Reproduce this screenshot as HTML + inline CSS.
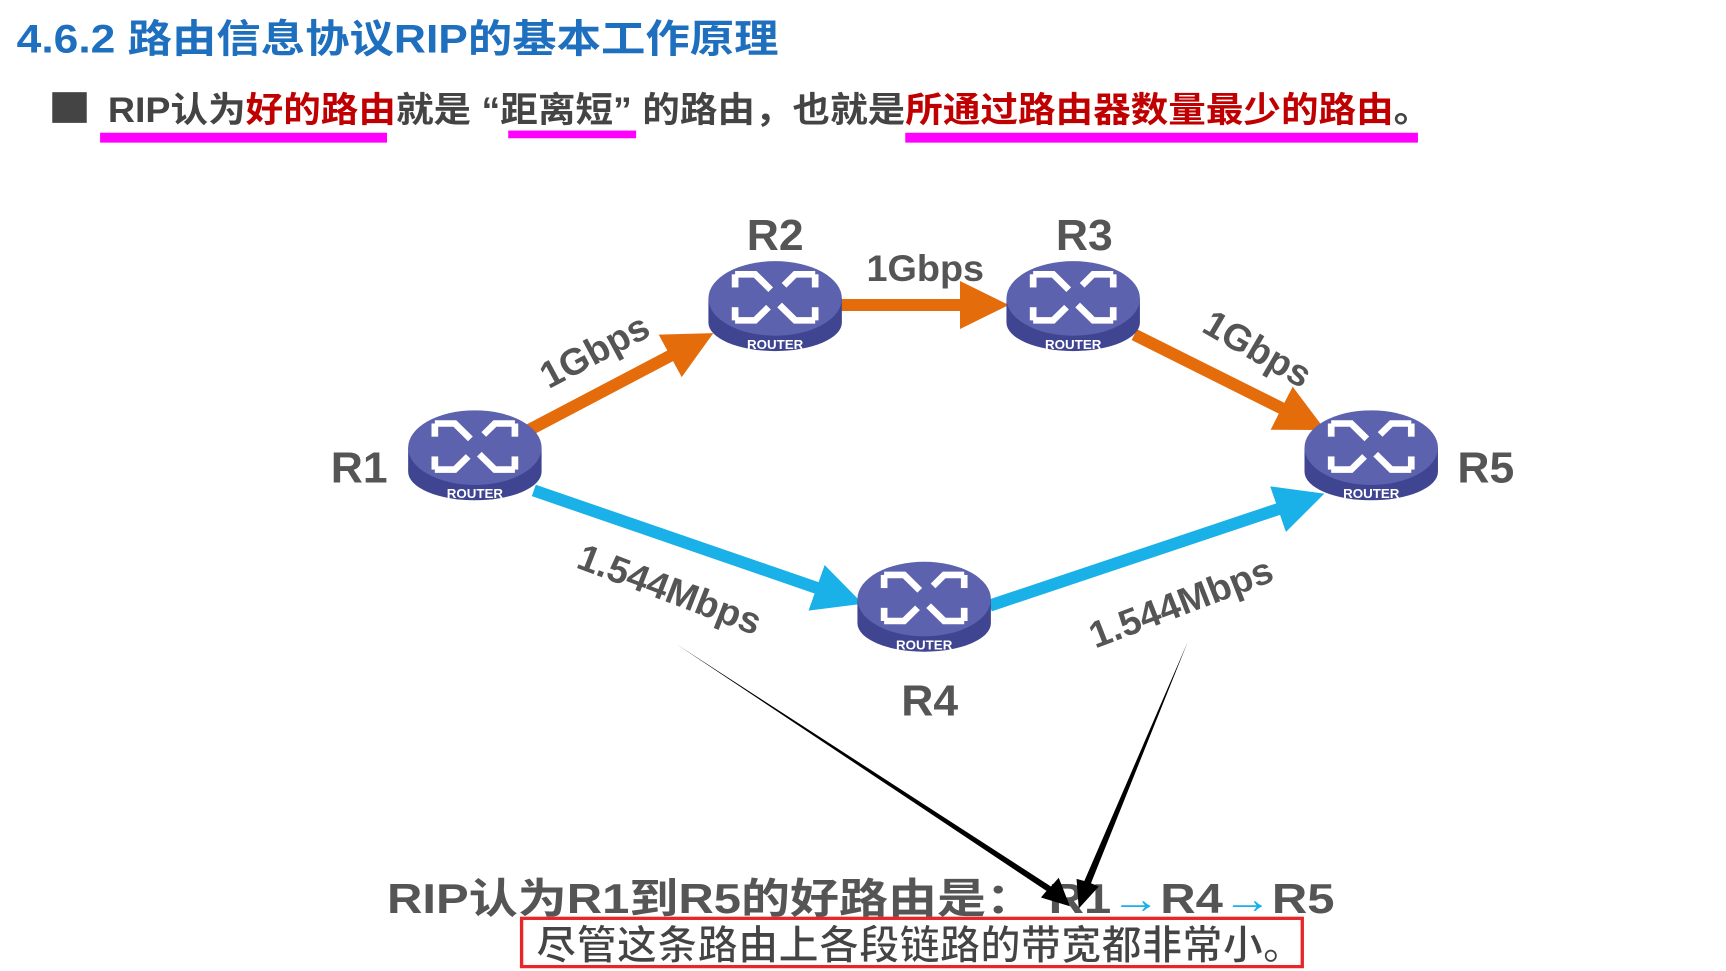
<!DOCTYPE html>
<html><head><meta charset="utf-8"><style>
html,body{margin:0;padding:0;background:#fff;}
svg{display:block;}
text{font-family:"Liberation Sans","Noto Sans CJK SC",sans-serif;}
</style></head><body>
<svg width="1726" height="971" viewBox="0 0 1552 885" preserveAspectRatio="none" xmlns="http://www.w3.org/2000/svg">
<defs>
<g id="rt">
  <path d="M-60,0 L-60,22 A60,26 0 0 0 60,22 L60,0 Z" fill="#3f4590"/>
  <ellipse cx="0" cy="0" rx="60" ry="34" fill="#5c62ad"/>
  <g stroke="#fff" stroke-width="6" fill="none" stroke-linejoin="miter">
    <path d="M-36,-22 L-18,-22 L-4,-8"/><path d="M-36,-22 L-36,-10"/>
    <path d="M36,-22 L18,-22 L8,-12"/><path d="M36,-22 L36,-10"/>
    <path d="M-36,20 L-18,20 L-6,8"/><path d="M-36,20 L-36,8"/>
    <path d="M36,20 L18,20 L4,6"/><path d="M36,20 L36,8"/>
  </g>
  <text x="0" y="46" font-size="12" font-weight="bold" fill="#fff" text-anchor="middle">ROUTER</text>
</g>
<marker id="ao" markerWidth="4" markerHeight="4" refX="2" refY="2" orient="auto" markerUnits="strokeWidth"><path d="M0,0 L4,2 L0,4 Z" fill="#e46c0a"/></marker>
<marker id="ab" markerWidth="4" markerHeight="4" refX="2" refY="2" orient="auto" markerUnits="strokeWidth"><path d="M0,0 L4,2 L0,4 Z" fill="#1ab0e8"/></marker>
</defs>

<text x="15" y="48" font-size="36" font-weight="bold" fill="#1f6fbf" textLength="685" lengthAdjust="spacingAndGlyphs">4.6.2 路由信息协议RIP的基本工作原理</text>
<rect x="47" y="84" width="31" height="28" fill="#444"/>
<text x="97" y="111" font-size="32" font-weight="bold" fill="#444" textLength="1190" lengthAdjust="spacingAndGlyphs">RIP认为<tspan fill="#c00000">好的路由</tspan>就是 “距离短” 的路由，也就是<tspan fill="#c00000">所通过路由器数量最少的路由</tspan>。</text>
<rect x="90" y="121" width="258" height="9" fill="#f0f"/>
<rect x="457" y="119" width="115" height="7" fill="#f0f"/>
<rect x="814" y="121" width="461" height="9" fill="#f0f"/>

<g stroke-width="11" fill="none">
<line x1="470" y1="395" x2="622" y2="314" stroke="#e46c0a" marker-end="url(#ao)"/>
<line x1="755" y1="278" x2="885" y2="278" stroke="#e46c0a" marker-end="url(#ao)"/>
<line x1="1020" y1="305" x2="1172" y2="382" stroke="#e46c0a" marker-end="url(#ao)"/>
<line x1="480" y1="447" x2="755" y2="543" stroke="#1ab0e8" marker-end="url(#ab)"/>
<line x1="890" y1="552" x2="1170" y2="457" stroke="#1ab0e8" marker-end="url(#ab)"/>
</g>

<use href="#rt" x="427" y="408"/>
<use href="#rt" x="697" y="272"/>
<use href="#rt" x="965" y="272"/>
<use href="#rt" x="1233" y="408"/>
<use href="#rt" x="831" y="546"/>

<g font-size="40" font-weight="bold" fill="#555" text-anchor="middle">
<text x="697" y="228">R2</text>
<text x="975" y="228">R3</text>
<text x="323" y="440">R1</text>
<text x="1336" y="440">R5</text>
<text x="836" y="652">R4</text>
</g>
<g font-size="34" font-weight="bold" fill="#555" text-anchor="middle">
<text transform="translate(540,330) rotate(-28)">1Gbps</text>
<text x="832" y="256">1Gbps</text>
<text transform="translate(1125,328) rotate(30)">1Gbps</text>
<text transform="translate(598,548) rotate(21)">1.544Mbps</text>
<text transform="translate(1066,560) rotate(-21)">1.544Mbps</text>
</g>

<text x="348" y="832" font-size="38" font-weight="bold" fill="#555" textLength="852" lengthAdjust="spacingAndGlyphs">RIP认为R1到R5的好路由是： R1<tspan fill="#1ab0e8">→</tspan>R4<tspan fill="#1ab0e8">→</tspan>R5</text>

<path d="M608,587 L945,808 L952,800 L962,826 L936,818 L941,812 Z" fill="#000"/>
<path d="M1068,585 L981,805 L988,808 L970,828 L968,801 L975,803 Z" fill="#000"/>

<rect x="469" y="837" width="702" height="44" fill="#fff" stroke="#e8262a" stroke-width="3"/>
<text x="482" y="874" font-size="37" font-weight="bold" fill="#444" stroke="#fff" stroke-width="1" textLength="690" lengthAdjust="spacingAndGlyphs">尽管这条路由上各段链路的带宽都非常小。</text>
</svg>
</body></html>
